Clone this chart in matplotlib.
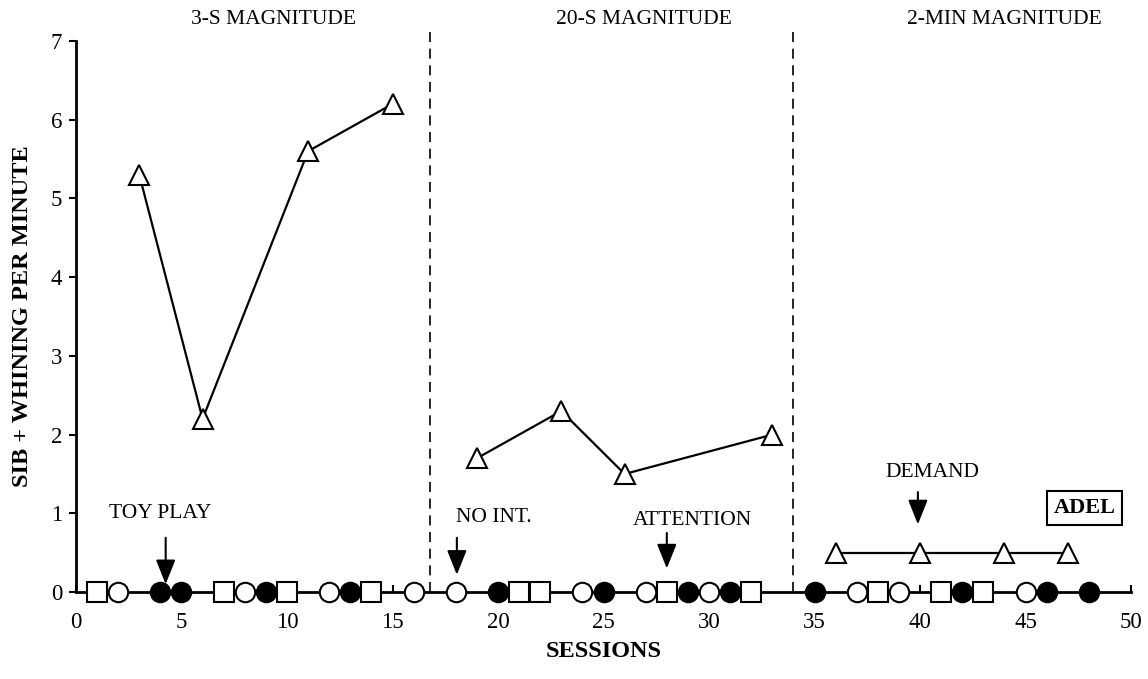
import matplotlib
matplotlib.use('Agg')
import matplotlib.pyplot as plt

plt.rcParams['font.family'] = ['Liberation Serif', 'DejaVu Serif']

# sessions per condition, split by phase (3-s, 20-s, 2-min magnitude)
demand_x = [[3, 6, 11, 15], [19, 23, 26, 33], [36, 40, 44, 47]]
demand_y = [[5.3, 2.2, 5.6, 6.2], [1.7, 2.3, 1.5, 2.0], [0.5, 0.5, 0.5, 0.5]]
toy_x = [[4, 5, 9, 13], [20, 25, 29, 31], [35, 42, 46, 48]]
noint_x = [[2, 8, 12, 16], [18, 24, 27, 30], [37, 39, 45]]
attn_x = [[1, 7, 10, 14], [21, 22, 28, 32], [38, 41, 43]]

phase_lines = [16.8, 34.0]
phase_labels = ['3-S MAGNITUDE', '20-S MAGNITUDE', '2-MIN MAGNITUDE']
phase_label_x = [9.35, 26.9, 44.0]

x_ticks = [0, 5, 10, 15, 20, 25, 30, 35, 40, 45, 50]
y_ticks = [0, 1, 2, 3, 4, 5, 6, 7]

fig = plt.figure(figsize=(11.48, 6.79), dpi=100)
ax = fig.add_axes([0.0662, 0.128, 0.919, 0.8116])

lw = 1.6
for xs in toy_x:
	ax.plot(xs, [0] * len(xs), 'o', color='k', markerfacecolor='k', markersize=14,
		markeredgewidth=1.5, clip_on=False, zorder=5)
for xs in noint_x:
	ax.plot(xs, [0] * len(xs), 'o', color='k', markerfacecolor='white', markersize=14,
		markeredgewidth=1.5, clip_on=False, zorder=5)
for xs in attn_x:
	ax.plot(xs, [0] * len(xs), 's', color='k', markerfacecolor='white', markersize=14,
		markeredgewidth=1.5, clip_on=False, zorder=5)
for xs, ys in zip(demand_x, demand_y):
	ax.plot(xs, ys, '-^', color='k', markerfacecolor='white', markersize=15,
		markeredgewidth=1.5, lw=lw, clip_on=False, zorder=4)

for px in phase_lines:
	ax.plot([px, px], [0, 7.15], color='k', lw=1.2, ls=(0, (6, 4)), clip_on=False)

for lab, px in zip(phase_labels, phase_label_x):
	ax.text(px, 7.27, lab, ha='center', va='center', fontsize=15.5)

fs = 15.5
arrow = dict(arrowstyle='-|>,head_width=0.3,head_length=0.75', color='k', lw=1.5,
	mutation_scale=20, shrinkA=0, shrinkB=0)
ax.text(3.98, 1.0, 'TOY PLAY', ha='center', va='center', fontsize=fs)
ax.annotate('', xy=(4.25, 0.1), xytext=(4.25, 0.69), arrowprops=arrow)
ax.text(19.8, 0.95, 'NO INT.', ha='center', va='center', fontsize=fs)
ax.annotate('', xy=(18.05, 0.22), xytext=(18.05, 0.69), arrowprops=arrow)
ax.text(29.2, 0.91, 'ATTENTION', ha='center', va='center', fontsize=fs)
ax.annotate('', xy=(28.0, 0.3), xytext=(28.0, 0.75), arrowprops=arrow)
ax.text(40.6, 1.52, 'DEMAND', ha='center', va='center', fontsize=fs)
ax.annotate('', xy=(39.9, 0.86), xytext=(39.9, 1.27), arrowprops=arrow)

ax.text(47.8, 1.07, 'ADEL', ha='center', va='center', fontsize=16, fontweight='bold',
	bbox=dict(boxstyle='square,pad=0.3', facecolor='white', edgecolor='k', lw=1.5))

ax.set_xlim(0, 50)
ax.set_ylim(0, 7)
ax.set_xticks(x_ticks)
ax.set_yticks(y_ticks)
ax.tick_params(axis='x', direction='in', length=5, width=1.5, labelsize=16.5, pad=14)
ax.tick_params(axis='y', direction='out', length=5, width=1.5, labelsize=16.5, pad=5)
for s in ['top', 'right']:
	ax.spines[s].set_visible(False)
for s in ['left', 'bottom']:
	ax.spines[s].set_linewidth(2)

ax.set_xlabel('SESSIONS', fontsize=17.5, fontweight='bold', labelpad=6)
ax.set_ylabel('SIB + WHINING PER MINUTE', fontsize=17.5, fontweight='bold', labelpad=13)

fig.savefig('out.png', dpi=100)
